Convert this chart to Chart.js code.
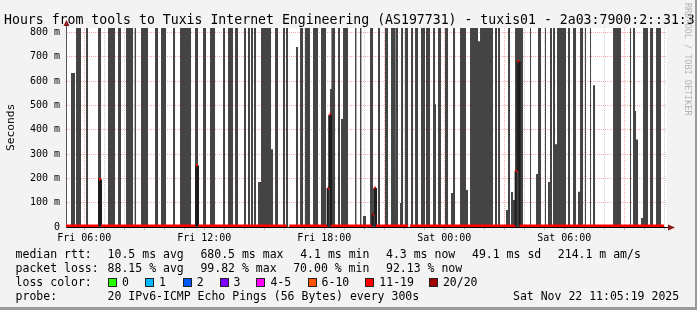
<!DOCTYPE html>
<html>
<head>
<meta charset="utf-8">
<script src="https://cdn.jsdelivr.net/npm/chart.js@4.4.1/dist/chart.umd.min.js"></script>
<style>
    html, body { margin: 0; padding: 0; }
    body { width: 697px; height: 310px; background: #f3f3f3; position: relative; overflow: hidden;
           font-family: 'DejaVu Sans Mono', monospace; color: #000; }
    #chart { position: absolute; left: 0; top: 0; }
    .t { position: absolute; white-space: pre; line-height: 1; }
    .leg { font-size: 11.5px; }
    .box { position: absolute; width: 7px; height: 7px; border: 1px solid #222; }
    .edge-r { position: absolute; left: 695px; top: 0; width: 2px; height: 310px; background: #9a9a9a; }
    .edge-b { position: absolute; left: 0; top: 307px; width: 697px; height: 3px; background: #9a9a9a; }
</style>
</head>
<body>
<canvas id="chart" width="697" height="310"></canvas>

<div class="t" style="left:4px; top:12.5px; font-size:13.2px;">Hours from tools to Tuxis Internet Engineering (AS197731) - tuxis01 - 2a03:7900:2::31:3</div>
<div class="t" style="left:5px; top:151px; font-size:11.2px; line-height:12px; transform-origin:0 0; transform:rotate(-90deg);">Seconds</div>
<div class="t" style="left:692px; top:3px; font-size:8.5px; line-height:9px; color:#b4b4b4; transform-origin:0 0; transform:rotate(90deg);">RRDTOOL / TOBI OETIKER</div>

<div id="legend"></div>
<div class="edge-r"></div>
<div class="edge-b"></div>

<script>
// --- DATA ---
// time axis is in hours from Fri 00:00, values in milliseconds
const startHour = 5.0886;   // Fri 05:05:19
const endHour = 35.0886;    // Sat 11:05:19
const F = 820;              // smoke that runs off the top of the graph

// smoke bands: [from hour, to hour, top of smoke in ms]
const smokeBands = [
    [5.34, 5.54, 633], [5.59, 5.84, F], [6.09, 6.19, F], [6.69, 6.84, F], [7.19, 7.54, F], [7.69, 7.84, F],
    [8.09, 8.44, F], [8.52, 8.59, F], [8.84, 9.19, F], [9.54, 9.69, F], [9.84, 10.09, F],
    [10.44, 10.54, F], [10.79, 11.34, F], [11.54, 11.69, F], [11.94, 12.09, F], [12.29, 12.54, F],
    [12.94, 13.04, F], [13.19, 13.44, F], [13.54, 13.69, F], [13.99, 14.09, F], [14.19, 14.29, F],
    [14.34, 14.44, F], [14.49, 14.59, F], [14.69, 14.84, 185], [14.84, 15.34, F], [15.34, 15.44, 320],
    [15.54, 15.69, F], [15.94, 16.04, F], [16.09, 16.19, F], [16.59, 16.69, 740], [16.79, 16.94, F],
    [17.04, 17.29, F], [17.44, 17.69, F], [17.84, 18.09, F], [18.14, 18.29, 160], [18.29, 18.36, 567],
    [18.36, 18.54, F], [18.69, 18.79, F], [18.84, 18.94, 444], [18.94, 19.19, F], [19.54, 19.61, F],
    [19.79, 19.86, F], [19.94, 20.09, 45], [20.29, 20.44, F], [20.44, 20.59, 53], [20.69, 20.79, F],
    [21.04, 21.19, F], [21.34, 21.54, F], [21.57, 21.69, F], [21.79, 21.84, 99], [21.84, 21.94, F],
    [22.04, 22.19, F], [22.34, 22.44, F], [22.54, 22.69, F], [22.84, 23.04, F], [23.09, 23.29, F],
    [23.44, 23.54, F], [23.54, 23.59, 505], [23.69, 23.84, F], [24.04, 24.19, F], [24.34, 24.44, 140],
    [24.44, 24.54, F], [24.79, 25.09, F], [25.09, 25.19, 152], [25.29, 25.69, F], [25.69, 25.79, 764],
    [25.79, 26.44, F], [26.54, 26.64, F], [26.69, 26.79, F], [27.09, 27.19, 70], [27.19, 27.29, F],
    [27.34, 27.44, 144], [27.44, 27.54, 111], [27.54, 27.94, F], [28.29, 28.34, F], [28.59, 28.69, 218],
    [28.69, 28.84, F], [29.04, 29.09, F], [29.19, 29.29, 185], [29.29, 29.39, F], [29.44, 29.54, F],
    [29.54, 29.64, 340], [29.64, 30.09, F], [30.19, 30.29, F], [30.44, 30.59, F], [30.69, 30.79, 145],
    [30.79, 30.94, F], [31.04, 31.09, F], [31.29, 31.34, F], [31.44, 31.54, 583], [32.44, 32.84, F],
    [33.29, 33.34, F], [33.44, 33.54, F], [33.54, 33.59, 477], [33.59, 33.69, 360], [33.84, 33.94, 37],
    [33.94, 34.19, F], [34.29, 34.44, F], [34.59, 34.84, F]
];

// median rtt steps: value i holds from medianEdges[i] to medianEdges[i+1]; null = no reply
const medianEdges = [5.09, 6.74, 6.84, 11.59, 11.69, 16.12, 16.25, 18.17, 18.25, 18.34,
                     20.42, 20.50, 20.59, 22.20, 22.29, 27.57, 27.67, 27.77, 34.99];
const medianValues = [4.3, 195, 4.3, 253, 4.3, null, 4.3, 160, 461, 4.3,
                      53, 160, 4.3, null, 4.3, 231, 680, 4.3];

// axes
const yTickValues = [0, 50, 100, 150, 200, 250, 300, 350, 400, 450, 500, 550, 600, 650, 700, 750, 800];
const xLabelHours = [6, 12, 18, 24, 30];
const xLabelText = ['Fri 06:00', 'Fri 12:00', 'Fri 18:00', 'Sat 00:00', 'Sat 06:00'];

// legend
const lossLabels = ['0', '1', '2', '3', '4-5', '6-10', '11-19', '20/20'];
const lossColors = ['#26ff00', '#00b8ff', '#0059ff', '#7e00ff', '#ff00ff', '#ff5500', '#ff0000', '#a10000'];

// --- LEGEND (text rows under the graph) ---
function buildLegend() {
    const rows = [
        [248.5, [[15.6, 'median rtt:'], [107.6, '10.5 ms avg'], [200.4, '680.5 ms max'], [300.2, '4.1 ms min'],
                 [386, '4.3 ms now'], [472, '49.1 ms sd'], [557.8, '214.1 m am/s']]],
        [262.5, [[15.6, 'packet loss:'], [107.6, '88.15 % avg'], [200.4, '99.82 % max'], [293.2, '70.00 % min'],
                 [386, '92.13 % now']]],
        [276.5, [[15.6, 'loss color:']]],
        [290.5, [[15.6, 'probe:'], [107.6, '20 IPv6-ICMP Echo Pings (56 Bytes) every 300s'],
                 [513, 'Sat Nov 22 11:05:19 2025']]]
    ];
    let html = '';
    rows.forEach(([top, items]) => {
        items.forEach(([left, txt]) => {
            html += `<div class="t leg" style="left:${left}px; top:${top}px;">${txt}</div>`;
        });
    });
    const boxX = [108, 145, 182.7, 219.6, 256.4, 307.6, 365.3, 428.9];
    lossLabels.forEach((lbl, i) => {
        html += `<div class="box" style="left:${boxX[i]}px; top:278px; background:${lossColors[i]};"></div>`;
        html += `<div class="t leg" style="left:${boxX[i] + 14}px; top:276.5px;">${lbl}</div>`;
    });
    document.getElementById('legend').innerHTML = html;
}

// --- CHART ---
function initChart() {
    const majorGrid = 'rgba(240, 90, 90, 0.5)';
    const minorGrid = 'rgba(150, 150, 150, 0.5)';

    // smoke drawn as one filled outline going up and down at each band edge
    const smokePts = [];
    smokeBands.forEach(([s, e, h]) => {
        smokePts.push({ x: s, y: 0 }, { x: s, y: h }, { x: e, y: h }, { x: e, y: 0 });
    });

    // median steps: flat parts red (loss 11-19), jumps drawn dark
    const medianPts = [];
    medianValues.forEach((v, i) => {
        medianPts.push({ x: medianEdges[i], y: v }, { x: medianEdges[i + 1], y: v });
    });

    const hourTicks = [];
    for (let h = 6; h <= 35; h++) hourTicks.push(h);

    const axisArrows = {
        id: 'axisArrows',
        afterDraw(chart) {
            const { ctx, chartArea: a } = chart;
            ctx.save();
            ctx.strokeStyle = '#000';
            ctx.lineWidth = 1;
            ctx.beginPath();
            ctx.moveTo(a.right, a.bottom + 0.5);
            ctx.lineTo(a.right + 4, a.bottom + 0.5);
            ctx.stroke();
            ctx.strokeStyle = '#555';
            ctx.beginPath();
            ctx.moveTo(a.left + 0.5, a.top);
            ctx.lineTo(a.left + 0.5, a.top - 4);
            ctx.stroke();
            ctx.fillStyle = '#8b1a1a';
            ctx.beginPath();
            ctx.moveTo(a.left - 2.5, a.top - 2);
            ctx.lineTo(a.left + 3.5, a.top - 2);
            ctx.lineTo(a.left + 0.5, a.top - 8);
            ctx.closePath();
            ctx.fill();
            ctx.beginPath();
            ctx.moveTo(a.right + 2, a.bottom - 2.5);
            ctx.lineTo(a.right + 2, a.bottom + 3.5);
            ctx.lineTo(a.right + 9, a.bottom + 0.5);
            ctx.closePath();
            ctx.fill();
            ctx.restore();
        }
    };

    const plotBg = {
        id: 'plotBg',
        beforeDraw(chart) {
            const { ctx, chartArea: a } = chart;
            ctx.save();
            ctx.fillStyle = '#ffffff';
            ctx.fillRect(a.left, a.top, a.right - a.left + 1, a.bottom - a.top);
            ctx.restore();
        }
    };

    Chart.defaults.font.family = "'DejaVu Sans Mono', monospace";
    Chart.defaults.color = '#000';

    new Chart(document.getElementById('chart').getContext('2d'), {
        type: 'line',
        data: {
            datasets: [
                {
                    label: 'median rtt',
                    data: medianPts,
                    borderColor: '#ff0000',
                    borderWidth: 3,
                    pointRadius: 0,
                    spanGaps: false,
                    fill: false,
                    segment: {
                        borderColor: c => c.p0.parsed.x === c.p1.parsed.x ? '#1c1c1c' : '#ff0000',
                        borderWidth: c => c.p0.parsed.x === c.p1.parsed.x ? 2 : 3
                    }
                },
                {
                    label: 'smoke',
                    data: smokePts,
                    borderWidth: 0,
                    borderColor: 'rgba(0,0,0,0)',
                    backgroundColor: '#444444',
                    pointRadius: 0,
                    fill: 'origin'
                }
            ]
        },
        options: {
            responsive: false,
            animation: false,
            devicePixelRatio: 1,
            layout: { padding: { left: 0, top: 28, right: 31, bottom: 63 } },
            plugins: { legend: { display: false }, tooltip: { enabled: false } },
            scales: {
                x: {
                    type: 'linear',
                    min: startHour,
                    max: endHour,
                    z: 1,
                    afterFit: s => { s.height = 20; },
                    afterBuildTicks: s => { s.ticks = hourTicks.map(v => ({ value: v })); },
                    grid: {
                        color: c => c.tick.value % 3 === 0 ? majorGrid : minorGrid,
                        tickLength: 3,
                        tickBorderDash: []
                    },
                    border: { color: '#000', width: 1, dash: [1, 1] },
                    ticks: {
                        autoSkip: false,
                        maxRotation: 0,
                        padding: 2,
                        font: { size: 10 },
                        callback: v => {
                            const i = xLabelHours.indexOf(v);
                            return i >= 0 ? xLabelText[i] : '';
                        }
                    }
                },
                y: {
                    min: 0,
                    max: 818,
                    z: 1,
                    afterFit: s => { s.width = 66; },
                    afterBuildTicks: s => { s.ticks = yTickValues.map(v => ({ value: v })); },
                    grid: {
                        color: c => c.tick.value === 0 ? 'rgba(0,0,0,0)' : (c.tick.value % 100 === 0 ? majorGrid : minorGrid),
                        drawTicks: false
                    },
                    border: { color: '#555', width: 1, dash: [1, 1] },
                    ticks: {
                        padding: 6,
                        font: { size: 10 },
                        callback: v => v === 0 ? '0' : (v % 100 === 0 ? v + ' m' : '')
                    }
                }
            }
        },
        plugins: [plotBg, axisArrows]
    });
}

document.addEventListener('DOMContentLoaded', () => {
    buildLegend();
    initChart();
});
</script>
</body>
</html>
